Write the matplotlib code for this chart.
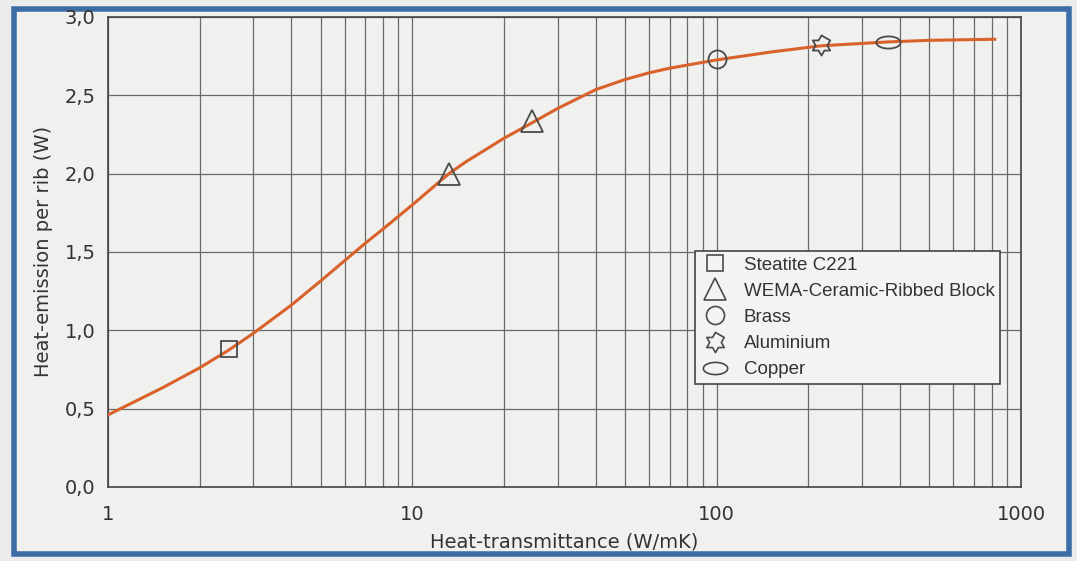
import numpy as np
import matplotlib.pyplot as plt
from matplotlib.path import Path
from matplotlib.patches import Rectangle
from matplotlib.lines import Line2D
from matplotlib.ticker import FuncFormatter, FixedLocator, LogLocator, NullFormatter

plt.rcParams['font.family'] = ['DejaVu Sans']

# curve
curve_x = [1, 1.5, 2, 2.5, 3, 4, 5, 6, 7, 8, 10, 13.2, 15, 20, 24.8, 30, 40, 50, 60, 70, 80, 100,
           150, 220, 366, 500, 820]
curve_y = [0.46, 0.63, 0.76, 0.875, 0.98, 1.16, 1.315, 1.445, 1.555, 1.645, 1.80, 2.00, 2.075, 2.225,
           2.325, 2.415, 2.535, 2.60, 2.643, 2.672, 2.692, 2.725, 2.775, 2.815, 2.84, 2.85, 2.857]

# materials
materials = ['Steatite C221', 'WEMA-Ceramic-Ribbed Block', 'Brass', 'Aluminium', 'Copper']
mat_x = [[2.5], [13.2, 24.8], [100], [220], [366]]
mat_y = [[0.879], [2.0, 2.335], [2.729], [2.82], [2.842]]

y_ticks = [0.0, 0.5, 1.0, 1.5, 2.0, 2.5, 3.0]
x_ticks = [1, 10, 100, 1000]

# custom markers: outline hexagram and a flat ellipse
ang = np.pi / 2 + np.arange(12) * np.pi / 6
rad = np.where(np.arange(12) % 2 == 0, 1.0, 0.58)
hexagram = Path(np.column_stack([rad * np.cos(ang), rad * np.sin(ang)]), closed=True)
t = np.linspace(0, 2 * np.pi, 60)
ellipse = Path(np.column_stack([np.cos(t), 0.5 * np.sin(t)]), closed=True)

marker_styles = [('s', 12), ('^', 16), ('o', 13), (hexagram, 14.5), (ellipse, 17.5)]
edge = '#4a4a4a'

fig = plt.figure(figsize=(10.77, 5.61), dpi=100)
fig.patch.set_facecolor('#ececec')
fig.patches.append(Rectangle((0.013, 0.012), 0.98, 0.972, transform=fig.transFigure,
                             facecolor='#f0f0ef', edgecolor='#3d6da6', linewidth=4, zorder=-1))

ax = fig.add_axes([0.1003, 0.132, 0.8477, 0.838])
ax.set_facecolor('#f0f0ef')
ax.set_xscale('log')
ax.set_xlim(1, 1000)
ax.set_ylim(0, 3.0)

ax.plot(curve_x, curve_y, color='#d9622b', linewidth=2.2, zorder=3)

handles = []
for name, xs, ys, (m, ms) in zip(materials, mat_x, mat_y, marker_styles):
    ax.plot(xs, ys, linestyle='none', marker=m, markersize=ms, markerfacecolor='none',
            markeredgecolor=edge, markeredgewidth=1.3, zorder=4)
    handles.append(Line2D([], [], linestyle='none', marker=m, markersize=ms,
                          markerfacecolor='none', markeredgecolor=edge, markeredgewidth=1.2, label=name))

ax.yaxis.set_major_locator(FixedLocator(y_ticks))
ax.yaxis.set_major_formatter(FuncFormatter(lambda v, p: f'{v:.1f}'.replace('.', ',')))
ax.xaxis.set_major_locator(FixedLocator(x_ticks))
ax.xaxis.set_major_formatter(FuncFormatter(lambda v, p: f'{int(v)}'))
ax.xaxis.set_minor_locator(LogLocator(base=10, subs=np.arange(2, 10)))
ax.xaxis.set_minor_formatter(NullFormatter())

ax.grid(True, which='both', axis='x', color='#6a6a6a', linewidth=0.9)
ax.grid(True, which='major', axis='y', color='#6a6a6a', linewidth=0.9)
ax.tick_params(which='both', length=0, labelsize=14, colors='#333333')
ax.tick_params(axis='x', pad=13)
ax.tick_params(axis='y', pad=9)
for s in ax.spines.values():
    s.set_color('#444444')
    s.set_linewidth(1.2)

ax.set_xlabel('Heat-transmittance (W/mK)', fontsize=14, color='#333333', labelpad=6)
ax.set_ylabel('Heat-emission per rib (W)', fontsize=14, color='#333333', labelpad=8)

leg = ax.legend(handles=handles, loc='upper left', bbox_to_anchor=(0.643, 0.502),
                prop={'family': 'Liberation Sans', 'size': 13.5},
                frameon=True, fancybox=False, edgecolor='#444444', facecolor='#f3f3f2', framealpha=1,
                handlelength=1.5, handletextpad=0.8, borderpad=0.3, labelspacing=0.48, borderaxespad=0)
leg.get_frame().set_linewidth(1.2)
for txt in leg.get_texts():
    txt.set_color('#333333')

fig.savefig('out.png', dpi=100)
